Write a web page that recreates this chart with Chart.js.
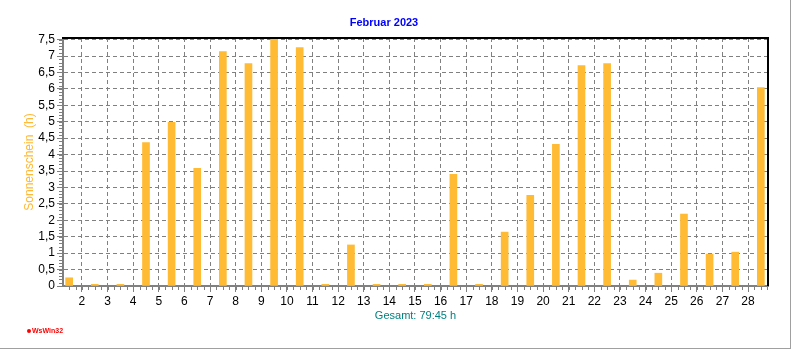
<!DOCTYPE html>
<html>
<head>
<meta charset="utf-8">
<script src="https://cdn.jsdelivr.net/npm/chart.js@4/dist/chart.umd.min.js"></script>
<style>
  body { margin: 0; background: #fff; }
</style>
</head>
<body>
<canvas id="chartSonne" width="792" height="350"></canvas>
<script>
// Tage im Februar 2023 und Sonnenscheindauer in Stunden
const tage = [1, 2, 3, 4, 5, 6, 7, 8, 9, 10, 11, 12, 13, 14, 15, 16, 17, 18, 19, 20, 21, 22, 23, 24, 25, 26, 27, 28];
const sonnenstunden = [0.25, 0.05, 0.05, 4.37, 4.98, 3.58, 7.14, 6.77, 7.55, 7.26, 0.05, 1.25, 0.05, 0.05,
  0.05, 3.40, 0.05, 1.64, 2.76, 4.31, 6.71, 6.77, 0.18, 0.39, 2.19, 0.97, 1.03, 6.04];

// Beschriftung der x-Achse liegt auf den Tagesgrenzen
const xTickWerte = [1.5, 2.5, 3.5, 4.5, 5.5, 6.5, 7.5, 8.5, 9.5, 10.5, 11.5, 12.5, 13.5, 14.5,
  15.5, 16.5, 17.5, 18.5, 19.5, 20.5, 21.5, 22.5, 23.5, 24.5, 25.5, 26.5, 27.5];
const xTickText = ['2', '3', '4', '5', '6', '7', '8', '9', '10', '11', '12', '13', '14', '15',
  '16', '17', '18', '19', '20', '21', '22', '23', '24', '25', '26', '27', '28'];

const yTickWerte = [0, 0.5, 1, 1.5, 2, 2.5, 3, 3.5, 4, 4.5, 5, 5.5, 6, 6.5, 7, 7.5];
const yTickText = ['0', '0,5', '1', '1,5', '2', '2,5', '3', '3,5', '4', '4,5', '5', '5,5', '6', '6,5', '7', '7,5'];

const titel = 'Februar 2023';
const yTitel = 'Sonnenschein  (h)';
const xTitel = 'Gesamt: 79:45 h';

const schrift = "'Liberation Sans', Arial, sans-serif";

// Rahmen oben/rechts, kleine Zwischenstriche, Logo und Fensterrand
const extrasPlugin = {
  id: 'extras',
  afterDraw(chart) {
    const ctx = chart.ctx;
    const a = chart.chartArea;
    const sx = chart.scales.x;
    const sy = chart.scales.y;
    ctx.save();

    // Zwischenstriche
    ctx.fillStyle = '#808080';
    for (let v = 1; v <= sx.max; v += 0.25) {
      if (v < sx.min) continue;
      const px = Math.round(sx.getPixelForValue(v));
      ctx.fillRect(px, a.bottom + 1, 1, 3);
    }
    for (let v = 0; v <= 7.5001; v += 0.1) {
      const py = Math.round(sy.getPixelForValue(v));
      ctx.fillRect(a.left - 4, py, 3, 1);
    }

    // schwarzer Rahmen oben und rechts
    ctx.strokeStyle = '#000';
    ctx.lineWidth = 2;
    ctx.beginPath();
    ctx.moveTo(a.left - 1, a.top);
    ctx.lineTo(a.right, a.top);
    ctx.lineTo(a.right, a.bottom);
    ctx.stroke();

    // WsWin32 Logo
    ctx.fillStyle = '#ff0000';
    ctx.beginPath();
    ctx.arc(29, 331, 2, 0, Math.PI * 2);
    ctx.fill();
    ctx.font = 'bold 7px ' + schrift;
    ctx.textBaseline = 'middle';
    ctx.fillText('WsWin32', 32, 331);

    // Fensterrand
    ctx.fillStyle = '#a0a0a0';
    ctx.fillRect(790, 0, 1, 349);
    ctx.fillRect(0, 348, 791, 1);
    ctx.restore();
  }
};

function grafico_sonne() {
  const canvas = document.getElementById('chartSonne');
  new Chart(canvas, {
    type: 'bar',
    data: {
      datasets: [{
        label: 'Sonnenschein',
        data: tage.map((t, i) => ({ x: t, y: sonnenstunden[i] })),
        backgroundColor: '#ffbb33',
        borderWidth: 0,
        barThickness: 7
      }]
    },
    options: {
      responsive: false,
      devicePixelRatio: 1,
      animation: false,
      layout: { padding: { left: 0, right: 24, top: 0, bottom: 0 } },
      plugins: {
        legend: { display: false },
        tooltip: { enabled: false },
        title: {
          display: true,
          text: titel,
          color: '#0000ff',
          font: { family: schrift, size: 11, weight: 'bold' },
          padding: { top: 16.4, bottom: 8.4 }
        }
      },
      scales: {
        x: {
          type: 'linear',
          min: 0.76,
          max: 28.28,
          offset: false,
          afterBuildTicks: (scale) => { scale.ticks = xTickWerte.map(v => ({ value: v })); },
          afterFit: (scale) => { scale.height = 64; },
          ticks: {
            autoSkip: false,
            maxRotation: 0,
            color: '#000',
            padding: 2,
            font: { family: schrift, size: 12 },
            callback: (v, i) => xTickText[i]
          },
          grid: { offset: false, color: '#808080', tickColor: '#808080', tickLength: 6, lineWidth: 1 },
          border: { color: '#808080', width: 2, dash: [4, 3] },
          title: {
            display: true,
            text: xTitel,
            color: '#008080',
            font: { family: schrift, size: 11 },
            padding: { top: 0, bottom: 27.5 }
          }
        },
        y: {
          min: 0,
          max: 7.55,
          afterBuildTicks: (scale) => { scale.ticks = yTickWerte.map(v => ({ value: v })); },
          afterFit: (scale) => { scale.width = 63; },
          ticks: {
            autoSkip: false,
            color: '#000',
            padding: 2,
            font: { family: schrift, size: 12 },
            callback: (v, i) => yTickText[i]
          },
          grid: { color: '#808080', tickColor: '#808080', tickLength: 6, lineWidth: 1 },
          border: { color: '#808080', width: 2, dash: [4, 3] },
          title: {
            display: true,
            text: yTitel,
            color: '#ffb833',
            font: { family: schrift, size: 12 },
            padding: { top: 22, bottom: 0 }
          }
        }
      }
    },
    plugins: [extrasPlugin]
  });
}

grafico_sonne();
</script>
</body>
</html>
